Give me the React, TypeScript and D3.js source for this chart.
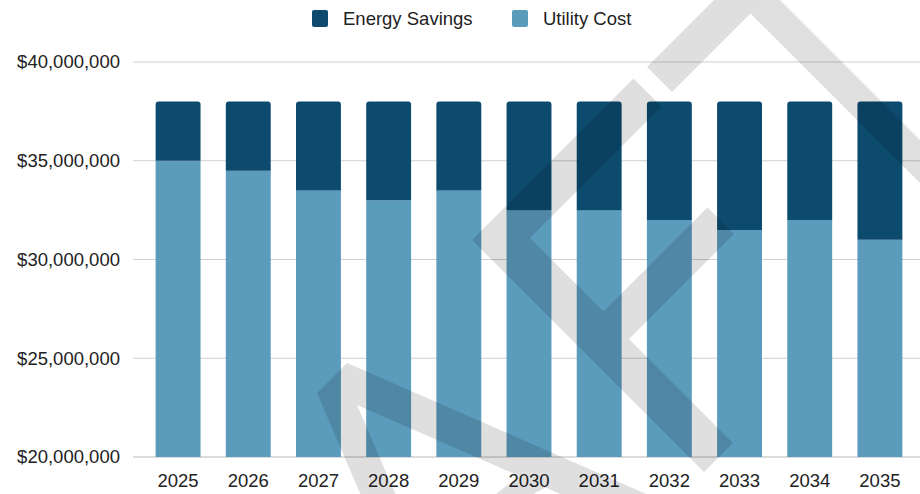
import React from "react";
import * as d3 from "d3";

const years = ["2025", "2026", "2027", "2028", "2029", "2030", "2031", "2032", "2033", "2034", "2035"];
const utilityCost = [35.0, 34.5, 33.5, 33.0, 33.5, 32.5, 32.5, 32.0, 31.5, 32.0, 31.0].map((v) => v * 1e6);
const energySavings = [3.0, 3.5, 4.5, 5.0, 4.5, 5.5, 5.5, 6.0, 6.5, 6.0, 7.0].map((v) => v * 1e6);
const yTicks = [20e6, 25e6, 30e6, 35e6, 40e6];
const seriesNames = ["Utility Cost", "Energy Savings"];
const legendOrder = ["Energy Savings", "Utility Cost"];
const colors: Record<string, string> = { "Energy Savings": "#0c4a6e", "Utility Cost": "#5b9bbc" };

const W = 920;
const H = 494;
const FONT = "'Liberation Sans', Arial, sans-serif";

// decorative watermark polygons (not data)
const watermark: [number, number][][] = [
  [[647, 67], [747, -33], [930, 150], [930, 193], [750.5, 13.5], [672, 92]],
  [[633.5, 78.5], [472, 240], [704, 472], [733, 443], [629, 339], [734, 234], [707.5, 207.5], [603.5, 311.5], [530, 238], [661.5, 106.5]],
  [[317, 393], [347, 363], [660, 500], [574, 500], [357, 405], [398, 500], [363, 500]],
  [[488, 500], [522, 474], [548, 486], [522, 500]],
];

function topRounded(x: number, y: number, w: number, h: number, r: number) {
  const rr = Math.min(r, h, w / 2);
  return `M${x},${y + h}V${y + rr}Q${x},${y} ${x + rr},${y}H${x + w - rr}Q${x + w},${y} ${x + w},${y + rr}V${y + h}Z`;
}

export default function App() {
  const x = d3.scaleBand<string>().domain(years).range([143, 915]).paddingInner(0.36).paddingOuter(0.18);
  const y = d3.scaleLinear().domain([20e6, 40e6]).range([457, 62]);
  const rows = years.map((yr, i) => ({ year: yr, "Utility Cost": utilityCost[i], "Energy Savings": energySavings[i] }));
  const stack = d3.stack<any>().keys(seriesNames)(rows);
  const fmt = (v: number) => "$" + d3.format(",")(v);
  const bw = x.bandwidth();

  return (
    <svg width={W} height={H} style={{ position: "absolute", left: 0, top: 0, background: "#fff" }} fontFamily={FONT}>
      <rect x={0} y={0} width={W} height={H} fill="#fff" />
      {yTicks.map((t) => (
        <g key={t}>
          <line x1={133} x2={W} y1={y(t)} y2={y(t)} stroke={t === 20e6 ? "#b8b8b8" : "#cfcfcf"} strokeWidth={1} />
          <text x={120} y={y(t)} dy="0.35em" textAnchor="end" fontSize={18.5} fill="#222">
            {fmt(t)}
          </text>
        </g>
      ))}
      {stack.map((s) => (
        <g key={s.key} fill={colors[s.key]}>
          {s.map((d, i) => {
            const x0 = x(years[i])!;
            const top = y(d[1]);
            const bot = y(Math.max(d[0], 20e6));
            const isTop = s.key === "Energy Savings";
            return isTop ? (
              <path key={i} d={topRounded(x0, top, bw, bot - top, 3)} />
            ) : (
              <rect key={i} x={x0} y={top} width={bw} height={bot - top} />
            );
          })}
        </g>
      ))}
      {years.map((yr) => (
        <text key={yr} x={x(yr)! + bw / 2} y={481} dy="0.35em" textAnchor="middle" fontSize={18.5} fill="#222">
          {yr}
        </text>
      ))}
      {legendOrder.map((name, i) => {
        const lx = [312, 512][i];
        return (
          <g key={name}>
            <rect x={lx} y={10} width={16} height={17} rx={2} fill={colors[name]} />
            <text x={lx + 31} y={18.5} dy="0.35em" fontSize={18.5} fill="#222">
              {name}
            </text>
          </g>
        );
      })}
      <g opacity={0.12}>
        {watermark.map((p, i) => (
          <polygon key={i} points={p.map((q) => q.join(",")).join(" ")} fill="#000" />
        ))}
      </g>
    </svg>
  );
}
